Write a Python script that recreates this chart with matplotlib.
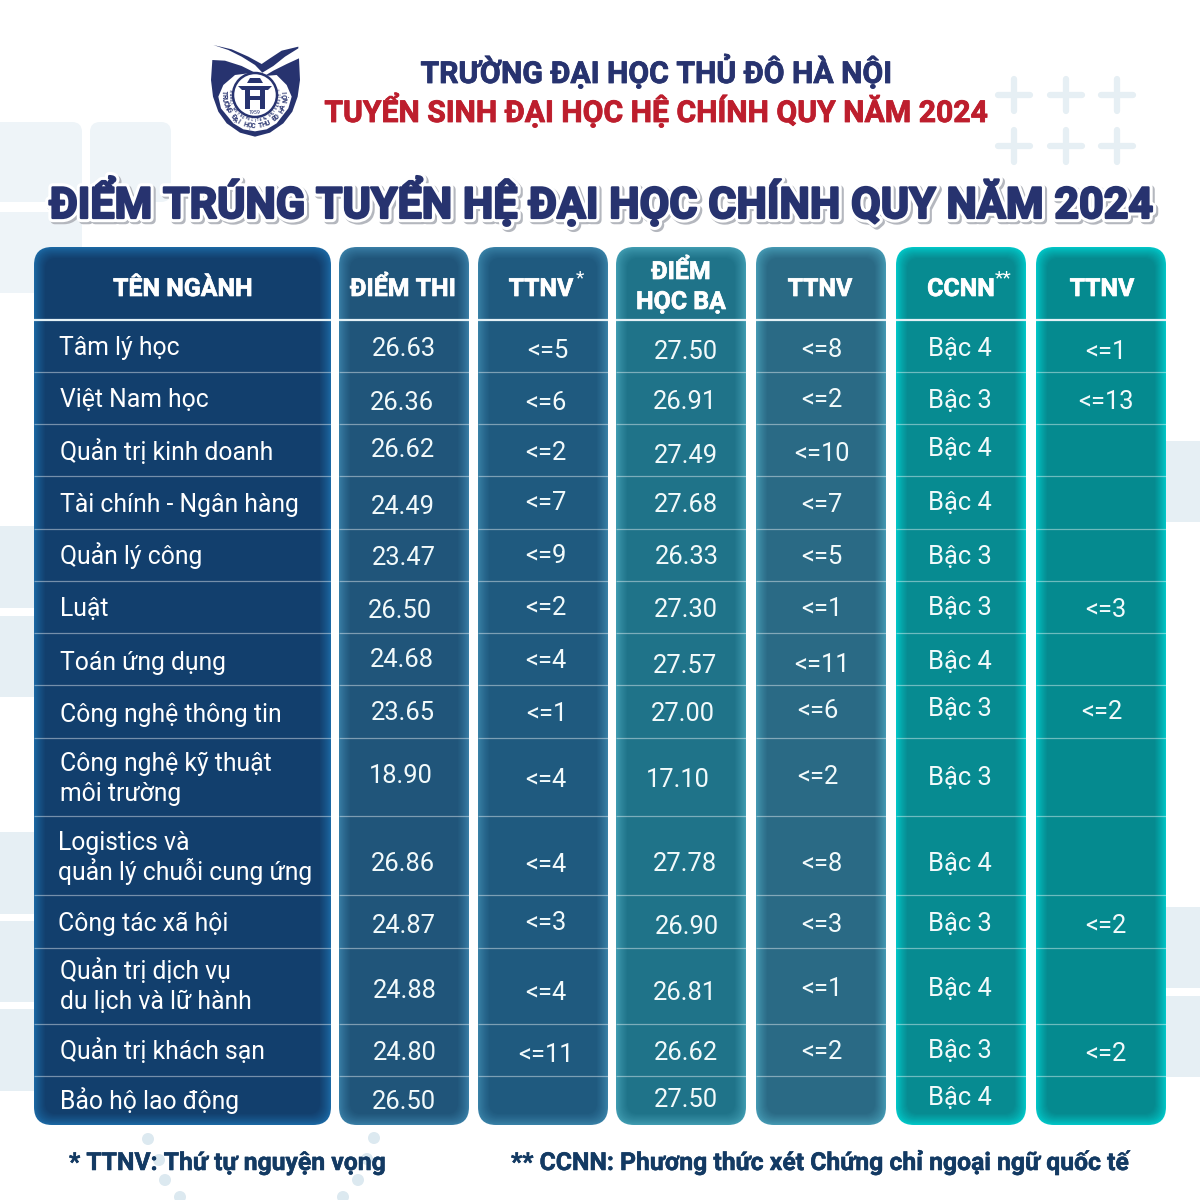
import matplotlib
matplotlib.use('Agg')
import matplotlib.pyplot as plt
import matplotlib.patheffects as pe
import numpy as np
from matplotlib.patches import FancyBboxPatch, Circle, Polygon, Rectangle
from matplotlib.colors import to_rgb

plt.rcParams['font.family'] = ['Roboto', 'DejaVu Sans']

# table content
majors = ['Tâm lý học', 'Việt Nam học', 'Quản trị kinh doanh', 'Tài chính - Ngân hàng',
          'Quản lý công', 'Luật', 'Toán ứng dụng', 'Công nghệ thông tin',
          'Công nghệ kỹ thuật\nmôi trường', 'Logistics và\nquản lý chuỗi cung ứng',
          'Công tác xã hội', 'Quản trị dịch vụ\ndu lịch và lữ hành',
          'Quản trị khách sạn', 'Bảo hộ lao động']
diem_thi = ['26.63', '26.36', '26.62', '24.49', '23.47', '26.50', '24.68', '23.65',
            '18.90', '26.86', '24.87', '24.88', '24.80', '26.50']
ttnv_thi = ['<=5', '<=6', '<=2', '<=7', '<=9', '<=2', '<=4', '<=1', '<=4', '<=4', '<=3', '<=4', '<=11', '']
diem_hocba = ['27.50', '26.91', '27.49', '27.68', '26.33', '27.30', '27.57', '27.00',
              '17.10', '27.78', '26.90', '26.81', '26.62', '27.50']
ttnv_hocba = ['<=8', '<=2', '<=10', '<=7', '<=5', '<=1', '<=11', '<=6', '<=2', '<=8', '<=3', '<=1', '<=2', '']
ccnn = ['Bậc 4', 'Bậc 3', 'Bậc 4', 'Bậc 4', 'Bậc 3', 'Bậc 3', 'Bậc 4', 'Bậc 3',
        'Bậc 3', 'Bậc 4', 'Bậc 3', 'Bậc 4', 'Bậc 3', 'Bậc 4']
ttnv_ccnn = ['<=1', '<=13', '', '', '', '<=3', '', '<=2', '', '', '<=2', '', '<=2', '']
columns = [diem_thi, ttnv_thi, diem_hocba, ttnv_hocba, ccnn, ttnv_ccnn]

# layout, in pixels of the 1200x1200 picture
col_left = [34, 339, 478, 616, 756, 896, 1036]
col_right = [331, 469, 608, 746, 886, 1026, 1166]
table_top, table_bottom, head_line = 247, 1125, 320
row_lines = [372, 424, 476, 529, 581, 633, 685, 738, 816, 895, 948, 1024, 1076]
fill_cols = ['#123f6d', '#20557a', '#1f5a7f', '#1f7389', '#2a6a85', '#078b91', '#058a8f']
edge_cols = ['#1d70ad', '#3d86ae', '#3d88ae', '#46a3b8', '#4aa2bc', '#00d2d2', '#00d2d2']

major_x = [59, 60, 60, 60, 60, 60, 60, 60, 60, 58, 58, 60, 60, 60]
major_y = [346, 398, 451, 503, 555, 607, 661, 713, 762, 841, 922, 970, 1050, 1100]
cell_x = [[404, 402, 403, 403, 404, 400, 402, 403, 401, 403, 404, 405, 405, 404],
          [548, 546, 546, 546, 546, 546, 546, 547, 546, 546, 546, 546, 546, 546],
          [686, 685, 686, 686, 687, 686, 685, 683, 678, 685, 687, 685, 686, 686],
          [822, 822, 822, 822, 822, 822, 822, 818, 818, 822, 822, 822, 822, 822],
          [960, 960, 960, 960, 960, 960, 960, 960, 960, 960, 960, 960, 960, 960],
          [1106, 1106, 1106, 1106, 1106, 1106, 1106, 1102, 1106, 1106, 1106, 1106, 1106, 1106]]
cell_y = [[347, 401, 448, 505, 556, 609, 658, 711, 774, 862, 924, 989, 1051, 1100],
          [349, 401, 451, 501, 554, 606, 659, 712, 778, 863, 921, 991, 1053, 1100],
          [350, 400, 454, 503, 555, 608, 664, 712, 778, 862, 925, 991, 1051, 1098],
          [348, 398, 452, 503, 555, 607, 663, 709, 775, 862, 923, 987, 1050, 1100],
          [347, 399, 447, 501, 555, 606, 660, 707, 776, 862, 922, 987, 1049, 1096],
          [350, 400, 452, 503, 555, 608, 660, 710, 776, 862, 924, 989, 1052, 1100]]

NAVY = '#27336f'
PALE = '#e6eff4'

fig = plt.figure(figsize=(12, 12), dpi=100)
ax = fig.add_axes([0, 0, 1, 1])
ax.set_xlim(0, 1200)
ax.set_ylim(1200, 0)
ax.axis('off')


def rbox(x0, y0, x1, y1, r, color, z=1):
    ax.add_patch(FancyBboxPatch((x0, y0), x1 - x0, y1 - y0, boxstyle=f'round,pad=0,rounding_size={r}',
                                fc=color, ec='none', zorder=z))


# background decoration
for x0, y0, x1, y1 in [(-20, 122, 82, 202), (90, 122, 171, 202), (-20, 212, 82, 293)]:
    rbox(x0, y0, x1, y1, 10, '#eef4f8')
for y0, y1 in [(526, 608), (616, 697), (832, 914), (921, 1002), (1009, 1091)]:
    ax.add_patch(Rectangle((0, y0), 40, y1 - y0, fc=PALE, ec='none', zorder=1))
for y0, y1 in [(441, 522), (907, 988), (996, 1077)]:
    ax.add_patch(Rectangle((1160, y0), 40, y1 - y0, fc=PALE, ec='none', zorder=1))
for px in [1014, 1066, 1117]:
    for py in [95, 146]:
        ax.plot([px - 16, px + 16], [py, py], color=PALE, lw=4.5, solid_capstyle='round', zorder=1)
        ax.plot([px, px], [py - 16, py + 16], color=PALE, lw=4.5, solid_capstyle='round', zorder=1)
for px, py in [(148, 1139), (374, 1138), (159, 1160), (367, 1159), (165, 1180), (358, 1180), (180, 1197), (343, 1197)]:
    ax.add_patch(Circle((px, py), 6, fc='#dce9f0', ec='none', zorder=1))

# table columns with the soft inner glow
steps = 12
for left, right, fill, edge in zip(col_left, col_right, fill_cols, edge_cols):
    c0, c1 = np.array(to_rgb(edge)), np.array(to_rgb(fill))
    for i in range(steps):
        t = ((i + 1) / steps) ** 0.7
        rbox(left + i, table_top + i, right - i, table_bottom - i, max(18 - i * 0.6, 8),
             tuple(c0 + (c1 - c0) * t), z=2)
    ax.plot([left, right], [head_line, head_line], color='#e4f1f6', lw=1.6, zorder=3, solid_capstyle='butt')
    for yl in row_lines:
        ax.plot([left, right], [yl, yl], color='white', alpha=0.42, lw=0.9, zorder=3, solid_capstyle='butt')

# header row
thick = [pe.withStroke(linewidth=0.5, foreground='white')]
head_style = dict(color='white', fontweight='bold', fontsize=17.9, ha='center', va='baseline', zorder=5, path_effects=thick)
ax.text(183, 296, 'TÊN NGÀNH', **head_style)
ax.text(403, 296, 'ĐIỂM THI', **head_style)
ax.text(541, 296, 'TTNV', **head_style)
ax.text(580, 283, '*', color='white', fontsize=14, ha='center', va='baseline', zorder=5)
ax.text(681, 279, 'ĐIỂM', **head_style)
ax.text(681, 309, 'HỌC BẠ', **head_style)
ax.text(820, 296, 'TTNV', **head_style)
ax.text(961, 296, 'CCNN', **head_style)
ax.text(1003, 283, '**', color='white', fontsize=14, ha='center', va='baseline', zorder=5)
ax.text(1102, 296, 'TTNV', **head_style)

# body cells
for name, mx, my in zip(majors, major_x, major_y):
    for k, part in enumerate(name.split('\n')):
        ax.text(mx, my + 9 + k * 30, part, color='white', fontsize=17.8, ha='left', va='baseline', zorder=5)
for values, xs, ys in zip(columns, cell_x, cell_y):
    for val, cx, cy in zip(values, xs, ys):
        if val:
            ax.text(cx, cy + 9, val, color='#f2fafb', fontsize=18.4, ha='center', va='baseline', zorder=5)

# heading
ax.text(656, 83, 'TRƯỜNG ĐẠI HỌC THỦ ĐÔ HÀ NỘI', color=NAVY, fontsize=21.7, fontweight='bold', ha='center', va='baseline',
        path_effects=[pe.withStroke(linewidth=0.6, foreground=NAVY)])
ax.text(656, 122, 'TUYỂN SINH ĐẠI HỌC HỆ CHÍNH QUY NĂM 2024', color='#bd1e2d', fontsize=21.7, fontweight='bold', ha='center', va='baseline',
        path_effects=[pe.withStroke(linewidth=0.6, foreground='#bd1e2d')])
ax.text(600.5, 218, 'ĐIỂM TRÚNG TUYỂN HỆ ĐẠI HỌC CHÍNH QUY NĂM 2024', color=NAVY, fontsize=31, fontweight='bold',
        ha='center', va='baseline', zorder=4,
        path_effects=[pe.Stroke(linewidth=6, foreground='#b4b7be', offset=(1.5, -1.5)),
                      pe.Stroke(linewidth=6, foreground='white'),
                      pe.Stroke(linewidth=1.6, foreground=NAVY), pe.Normal()])

# footnotes
foot_fx = [pe.withStroke(linewidth=0.4, foreground='#133a63')]
ax.text(69, 1170, '* TTNV: Thứ tự nguyện vọng', color='#133a63', fontsize=17.8, fontweight='bold', ha='left', va='baseline', zorder=5, path_effects=foot_fx)
ax.text(511, 1170, '** CCNN: Phương thức xét Chứng chỉ ngoại ngữ quốc tế', color='#133a63', fontsize=17.8, fontweight='bold', ha='left', va='baseline', zorder=5, path_effects=foot_fx)

# logo
lx, ly = 255.0, 95.0


def logo_pts(pts):
    return [(205 + zx / 3, 40 + zy / 3) for zx, zy in pts]


shield = [(22, 60), (18, 120), (24, 170), (40, 215), (65, 250), (105, 278), (150, 290), (195, 278), (235, 250), (262, 215),
          (278, 170), (285, 120), (282, 55), (245, 72), (205, 92), (178, 108), (215, 105), (245, 135), (260, 170),
          (250, 205), (215, 250), (185, 268), (150, 274), (115, 268), (85, 250), (48, 205), (40, 170), (55, 135),
          (90, 105), (130, 100), (150, 98), (110, 78), (60, 62)]
wing = [(25, 15), (80, 28), (130, 50), (170, 72), (195, 55), (230, 32), (280, 20), (280, 25), (240, 50), (205, 78),
        (172, 98), (150, 75), (110, 50), (70, 30)]
ax.add_patch(Polygon(logo_pts(shield), closed=True, fc=NAVY, ec='none', zorder=4))
ax.add_patch(Polygon(logo_pts(wing), closed=True, fc=NAVY, ec='none', zorder=4))
ax.add_patch(Circle((lx, ly), 22, fc='white', ec=NAVY, lw=1.8, zorder=4))
# gate in the middle of the seal
ax.add_patch(Rectangle((245, 90), 5, 19, fc=NAVY, ec='none', zorder=5))
ax.add_patch(Rectangle((260, 90), 5, 19, fc=NAVY, ec='none', zorder=5))
ax.add_patch(Rectangle((250, 96), 10, 3.5, fc=NAVY, ec='none', zorder=5))
ax.add_patch(Polygon([(238, 86), (272, 86), (268, 90), (242, 90)], closed=True, fc=NAVY, ec='none', zorder=5))
ax.add_patch(Polygon([(247, 83), (263, 83), (260, 78), (250, 78)], closed=True, fc=NAVY, ec='none', zorder=5))
ax.text(lx, 114, '1959', color=NAVY, fontsize=3.8, ha='center', va='baseline', zorder=6)
logo_text = 'TRƯỜNG ĐẠI HỌC THỦ ĐÔ HÀ NỘI'
for ch, phi in zip(logo_text, np.linspace(-95, 95, len(logo_text))):
    a = np.radians(phi)
    ax.text(lx + 31 * np.sin(a), ly + 31 * np.cos(a), ch, color=NAVY, fontsize=5, fontweight='bold',
            ha='center', va='center', rotation=phi, rotation_mode='anchor', zorder=6)
seal_text = 'HANOI METROPOLITAN UNIVERSITY'
for ch, phi in zip(seal_text, np.linspace(-100, 100, len(seal_text))):
    a = np.radians(phi)
    ax.text(lx + 25.5 * np.sin(a), ly + 25.5 * np.cos(a), ch, color=NAVY, fontsize=2.4, fontweight='bold',
            ha='center', va='center', rotation=phi, rotation_mode='anchor', zorder=6)

fig.savefig('out.png', dpi=100, facecolor='white')
